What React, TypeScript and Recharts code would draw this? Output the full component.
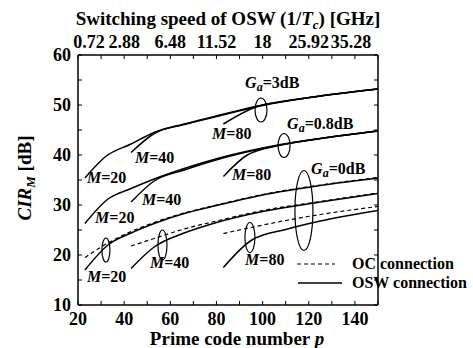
import { LineChart, Line, XAxis, YAxis, ReferenceDot, Legend, Label } from 'recharts';

const FONT = "'Liberation Serif', 'Times New Roman', serif";

// prime code number p (bottom axis) and switching speed (top axis)
const primeTicks = [20, 30, 40, 50, 60, 70, 80, 90, 100, 110, 120, 130, 140, 150];
const labelledPrimes = [20, 40, 60, 80, 100, 120, 140];
const speedLabels = ['0.72', '2.88', '6.48', '11.52', '18', '25.92', '35.28'];
const cirTicks = [10, 15, 20, 25, 30, 35, 40, 45, 50, 55, 60];

// [p, CIR_M dB]
// Ga = 3 dB (OSW connection)
const ga3M20 = [[23, 35.4], [32, 39.7], [43, 42.2], [53, 44.5], [66, 46.2], [80, 47.8], [100, 50.0], [125, 51.8], [150, 53.2]];
const ga3M40 = [[43, 40.5], [53, 44.3], [66, 46.1], [80, 47.7], [100, 49.9], [125, 51.8], [150, 53.2]];
const ga3M80 = [[83, 46.2], [97, 49.6], [110, 50.8], [125, 51.8], [150, 53.2]];

// Ga = 0.8 dB (OSW connection)
const ga08M20 = [[23, 26.3], [33, 31.2], [43, 33.3], [53, 35.2], [66, 37.3], [82, 39.5], [100, 41.4], [125, 43.3], [150, 44.8]];
const ga08M40 = [[43, 30.6], [53, 34.8], [66, 37.0], [82, 39.3], [100, 41.3], [125, 43.3], [150, 44.8]];
const ga08M80 = [[83, 35.7], [93, 39.9], [107, 41.9], [125, 43.3], [150, 44.8]];

// Ga = 0 dB, OSW connection
const ga0M20Osw = [[23, 17.0], [33, 22.0], [43, 24.4], [53, 26.3], [66, 28.3], [80, 29.9], [100, 32.0], [125, 33.9], [150, 35.4]];
const ga0M40Osw = [[43, 17.3], [53, 21.6], [66, 24.4], [80, 26.5], [100, 28.7], [125, 30.6], [150, 32.3]];
const ga0M80Osw = [[83, 17.5], [95, 22.9], [110, 25.1], [125, 26.8], [150, 28.9]];

// Ga = 0 dB, OC connection
const ga0M20Oc = [[23, 19.5], [33, 22.4], [43, 24.7], [53, 26.5], [66, 28.4], [80, 30.0], [100, 32.1], [125, 34.0], [150, 35.5]];
const ga0M40Oc = [[43, 21.8], [53, 23.3], [66, 25.2], [80, 26.8], [100, 28.9], [125, 30.7], [150, 32.4]];
const ga0M80Oc = [[83, 24.3], [95, 25.5], [110, 26.9], [125, 28.1], [150, 29.7]];

const toRows = (pairs: number[][]) => pairs.map(([p, cir]) => ({ p, cir }));

const oswCurves = [ga3M20, ga3M40, ga3M80, ga08M20, ga08M40, ga08M80, ga0M20Osw, ga0M40Osw, ga0M80Osw];
const ocCurves = [ga0M20Oc, ga0M40Oc, ga0M80Oc];

// annotations: [p, CIR] anchor, text
const gaNotes: [number, number, string][] = [[92.4, 53.4, '3'], [110.6, 45.2, '0.8'], [121.0, 36.2, '0']];
const mNotes: [number, number, string][] = [
  [23.9, 34.4, '20'], [44.7, 38.4, '40'], [78.1, 43.2, '80'],
  [27.4, 26.4, '20'], [47.7, 30.0, '40'], [86.7, 35.0, '80'],
  [23.9, 14.6, '20'], [51.2, 17.4, '40'], [92.4, 18.0, '80'],
];
const loops: [number, number, number, number][] = [
  [99.3, 49.0, 6, 12], [109.3, 41.9, 6, 12], [117.9, 28.9, 9, 40],
  [32.1, 21.0, 4, 12], [56.6, 22.0, 4.5, 15], [94.5, 23.5, 5, 15],
];

const TopTick = (props: any) => {
  const { x, y, payload } = props;
  const i = labelledPrimes.indexOf(Number(payload?.value));
  if (i < 0) return <g />;
  // first and last labels are nudged in the original to clear their neighbours
  const dx = i === 0 ? 11 : i === speedLabels.length - 1 ? -4 : 0;
  return (
    <text x={x + dx} y={y} textAnchor="middle" fontFamily={FONT} fontWeight="bold" fontSize={18} fill="#000">
      {speedLabels[i]}
    </text>
  );
};

const LegendBox = () => (
  <svg width={180} height={45}>
    <line x1={1} y1={12} x2={39} y2={12} stroke="#000" strokeWidth={1.2} strokeDasharray="4 3" />
    <text x={56} y={17} fontFamily={FONT} fontWeight="bold" fontSize={16}>OC connection</text>
    <line x1={2} y1={31} x2={46} y2={31} stroke="#000" strokeWidth={1.4} />
    <text x={56} y={36} fontFamily={FONT} fontWeight="bold" fontSize={16}>OSW connection</text>
  </svg>
);

export default function App() {
  const tickStyle = { fill: '#000', fontFamily: FONT, fontWeight: 'bold', fontSize: 18 };
  return (
    <div style={{ position: 'absolute', left: 0, top: 0, background: '#fff' }}>
      <LineChart width={473} height={348} margin={{ top: 0, right: 90, bottom: 0, left: 0 }}>
        <XAxis
          xAxisId="bottom" type="number" dataKey="p" domain={[20, 150]} ticks={primeTicks} allowDataOverflow
          height={43} tickSize={-4} tickMargin={11} interval={0}
          axisLine={{ stroke: '#000', strokeWidth: 1.5 }} tickLine={{ stroke: '#000' }} tick={tickStyle}
          tickFormatter={(v: number) => (labelledPrimes.includes(v) ? String(v) : '')}
        >
          <Label
            content={({ viewBox }: any) => (
              <text x={viewBox.x + 159} y={viewBox.y + 40} textAnchor="middle" fontFamily={FONT} fontWeight="bold" fontSize={19}>
                Prime code number <tspan fontStyle="italic">p</tspan>
              </text>
            )}
          />
        </XAxis>
        <XAxis
          xAxisId="top" orientation="top" type="number" dataKey="p" domain={[20, 150]} ticks={primeTicks} allowDataOverflow
          height={55} tickSize={-4} tickMargin={11} interval={0}
          axisLine={{ stroke: '#000', strokeWidth: 1.5 }} tickLine={{ stroke: '#000' }} tick={TopTick}
        >
          <Label
            content={({ viewBox }: any) => (
              <text x={viewBox.x + 150} y={viewBox.y + 25} textAnchor="middle" fontFamily={FONT} fontWeight="bold" fontSize={19}>
                Switching speed of OSW (1/<tspan fontStyle="italic">T</tspan>
                <tspan fontStyle="italic" fontSize={13} dy={4}>c</tspan>
                <tspan dy={-4}>) [GHz]</tspan>
              </text>
            )}
          />
        </XAxis>
        <YAxis
          yAxisId="left" type="number" domain={[10, 60]} ticks={cirTicks} allowDataOverflow width={78}
          tickSize={-4} tickMargin={11} interval={0}
          axisLine={{ stroke: '#000', strokeWidth: 1.5 }} tickLine={{ stroke: '#000' }} tick={tickStyle}
          tickFormatter={(v: number) => (v % 10 === 0 ? String(v) : '')}
        >
          <Label
            content={({ viewBox }: any) => {
              const x = viewBox.x + 31;
              const y = viewBox.y + 123;
              return (
                <text x={x} y={y} transform={`rotate(-90 ${x} ${y})`} textAnchor="middle" fontFamily={FONT} fontWeight="bold" fontSize={19}>
                  <tspan fontStyle="italic">CIR</tspan>
                  <tspan fontStyle="italic" fontSize={13} dy={4}>M</tspan>
                  <tspan dy={-4}> [dB]</tspan>
                </text>
              );
            }}
          />
        </YAxis>
        <YAxis
          yAxisId="right" orientation="right" type="number" domain={[10, 60]} ticks={cirTicks} allowDataOverflow width={5}
          tickSize={-4} interval={0}
          axisLine={{ stroke: '#000', strokeWidth: 1.5 }} tickLine={{ stroke: '#000' }} tick={tickStyle}
          tickFormatter={() => ''}
        />

        {oswCurves.map((c, i) => (
          <Line
            key={`osw${i}`} xAxisId="bottom" yAxisId="left" data={toRows(c)} dataKey="cir" type="monotone"
            stroke="#000" strokeWidth={1.5} dot={false} isAnimationActive={false} legendType="none"
          />
        ))}
        {ocCurves.map((c, i) => (
          <Line
            key={`oc${i}`} xAxisId="bottom" yAxisId="left" data={toRows(c)} dataKey="cir" type="monotone"
            stroke="#000" strokeWidth={1.2} strokeDasharray="4 3" dot={false} isAnimationActive={false} legendType="none"
          />
        ))}
        {/* the top axis follows the same p scale as the bottom one */}
        <Line
          xAxisId="top" yAxisId="left" data={toRows(ga3M20)} dataKey="cir" stroke="none" dot={false}
          isAnimationActive={false} legendType="none"
        />

        {loops.map(([p, v, rx, ry], i) => (
          <ReferenceDot
            key={`loop${i}`} xAxisId="bottom" yAxisId="left" x={p} y={v} r={0} ifOverflow="visible"
            shape={(s: any) => <ellipse cx={s.cx} cy={s.cy} rx={rx} ry={ry} fill="none" stroke="#000" strokeWidth={1.2} />}
          />
        ))}
        {gaNotes.map(([p, v, g], i) => (
          <ReferenceDot
            key={`ga${i}`} xAxisId="bottom" yAxisId="left" x={p} y={v} r={0} ifOverflow="visible"
            shape={(s: any) => (
              <text x={s.cx} y={s.cy} fontFamily={FONT} fontWeight="bold" fontSize={16} fill="#000">
                <tspan fontStyle="italic">G</tspan>
                <tspan fontStyle="italic" fontSize={12} dy={3}>a</tspan>
                <tspan dy={-3}>={g}dB</tspan>
              </text>
            )}
          />
        ))}
        {mNotes.map(([p, v, m], i) => (
          <ReferenceDot
            key={`m${i}`} xAxisId="bottom" yAxisId="left" x={p} y={v} r={0} ifOverflow="visible"
            shape={(s: any) => (
              <text x={s.cx} y={s.cy} fontFamily={FONT} fontWeight="bold" fontSize={16} fill="#000">
                <tspan fontStyle="italic">M</tspan>={m}
              </text>
            )}
          />
        ))}

        <Legend
          layout="horizontal" verticalAlign="middle" align="center"
          wrapperStyle={{ position: 'absolute', left: 296, top: 252, width: 180, height: 45 }}
          content={() => <LegendBox />}
        />
      </LineChart>
    </div>
  );
}
